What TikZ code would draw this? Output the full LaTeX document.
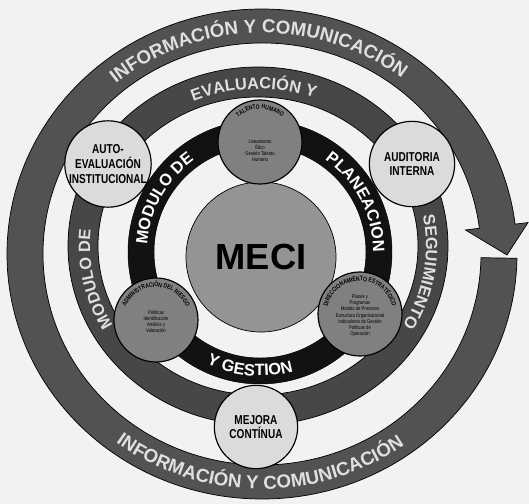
\documentclass[tikz,border=0pt]{standalone}
\usepackage{fontspec}
\setmainfont{Liberation Sans}
\setsansfont{Liberation Sans}
\newfontfamily\condfont[FakeStretch=0.78]{Liberation Sans}
\usetikzlibrary{decorations.text}

\definecolor{bggray}{gray}{0.95}
\definecolor{ringgray}{gray}{0.32}
\definecolor{bandgray}{gray}{0.28}
\definecolor{blackband}{gray}{0.07}
\definecolor{mecigray}{gray}{0.58}
\definecolor{compgray}{gray}{0.50}
\definecolor{discgray}{gray}{0.86}
\definecolor{lettergray}{gray}{0.88}

\newcommand{\ringfont}{\bfseries\fontsize{16}{16}\selectfont}
\newcommand{\bandfont}{\bfseries\fontsize{14}{14}\selectfont}
\newcommand{\discfont}{\condfont\bfseries\fontsize{11}{12.5}\selectfont}
\newcommand{\arcfont}{\condfont\bfseries\fontsize{5.5}{5.5}\selectfont}
\newcommand{\minifont}{\condfont\fontsize{4.6}{5.2}\selectfont}

\begin{document}
\begin{tikzpicture}[x=0.03cm,y=0.03cm,
  disc/.style={circle,draw=black,line width=1pt,inner sep=0pt,align=center},
  lightdisc/.style={disc,fill=discgray,font=\discfont,minimum size=2.56cm},
  compdisc/.style={disc,fill=compgray,minimum size=2.52cm},
  mecidisc/.style={disc,line width=0.6pt,fill=mecigray,minimum size=4.5cm,
    font=\bfseries\fontsize{31}{31}\selectfont},
  innertext/.style={align=center,inner sep=0pt,font=\minifont},
  ringtext/.style={decorate,decoration={text along path,text align=center,
    text color=lettergray,text={|\ringfont|#1}}},
  bandtext/.style={decorate,decoration={text along path,text align=center,
    text color=lettergray,text={|\bandfont|#1}}},
  blacktext/.style={decorate,decoration={text along path,text align=center,
    text color=white,text={|\bandfont|#1}}},
  arctext/.style={decorate,decoration={text along path,text align=center,
    text color=black,text={|\arcfont|#1}}}
]

\useasboundingbox (-262,-250) rectangle (267,254);
\fill[bggray] (-262,-250) rectangle (267,254);

\coordinate (O) at (0,0);
\coordinate (S) at (-4,8);
\coordinate (B) at (-2,2);

\filldraw[fill=ringgray,draw=black,line width=0.6pt]
  (7:219 and 211) arc[start angle=7,end angle=359,x radius=219,y radius=211]
  -- (359:255 and 245) arc[start angle=359,end angle=7,x radius=255,y radius=245]
  -- (7:268 and 258) -- (245,-1) -- (7:205 and 197) -- cycle;

\filldraw[fill=bandgray,draw=black,line width=0.6pt,even odd rule]
  (S) ellipse[x radius=190,y radius=179] (S) ellipse[x radius=160,y radius=149];

\filldraw[fill=blackband,draw=black,even odd rule]
  (B) circle[radius=132] (B) circle[radius=106];

\path[ringtext={INFORMACIÓN Y COMUNICACIÓN}]
  (160:230 and 221) arc[start angle=160,end angle=22,x radius=230,y radius=221];
\path[ringtext={INFORMACIÓN Y COMUNICACIÓN}]
  (200:245 and 235) arc[start angle=200,end angle=339,x radius=245,y radius=235];

\path[bandtext={EVALUACIÓN Y},shift={(S)}]
  (135:168 and 157) arc[start angle=135,end angle=48,x radius=168,y radius=157];
\path[bandtext={SEGUIMIENTO},shift={(S)}]
  (25:168 and 157) arc[start angle=25,end angle=-44,x radius=168,y radius=157];
\path[bandtext={MODULO DE},shift={(S)}]
  (228:168 and 157) arc[start angle=228,end angle=156,x radius=168,y radius=157];

\path[blacktext={MODULO DE},shift={(B)}]
  (188:113) arc[start angle=188,end angle=114,radius=113];
\path[blacktext={PLANEACION},shift={(B)}]
  (66:113) arc[start angle=66,end angle=-11,radius=113];
\path[blacktext={Y GESTION},shift={(B)}]
  (232:124) arc[start angle=232,end angle=298,radius=124];

\node[mecidisc] (meci) at (-1,-3) {MECI};

\node[compdisc] (talento) at (-2,112) {};
\node[compdisc] (riesgo) at (-106,-66) {};
\node[compdisc] (direccion) at (98,-60) {};

\path[arctext={TALENTO HUMANO},shift={(talento.center)}]
  (165:33) arc[start angle=165,end angle=15,radius=33];
\path[arctext={ADMINISTRACIÓN DEL RIESGO},shift={(riesgo.center)}]
  (235:33) arc[start angle=235,end angle=-55,radius=33];
\path[arctext={DIRECCIONAMIENTO ESTRATÉGICO},shift={(direccion.center)}]
  (240:33) arc[start angle=240,end angle=-60,radius=33];

\node[innertext] (talento-txt) at ([yshift=-0.25cm]talento.center)
  {Lineamiento\\Ético\\Gestión Talento\\Humano};
\node[innertext] (riesgo-txt) at ([yshift=-0.05cm]riesgo.center)
  {Políticas\\Identificación\\Análisis y\\Valoración};
\node[innertext] (direccion-txt) at ([yshift=-0.05cm]direccion.center)
  {Planes y\\Programas\\Modelo de Procesos\\Estructura Organizacional\\Indicadores de Gestión\\Políticas de\\Operación};

\node[lightdisc] (autoeval) at (-154,90) {AUTO-\\EVALUACIÓN\\INSTITUCIONAL};
\node[lightdisc] (auditoria) at (150,90) {AUDITORIA\\INTERNA};
\node[lightdisc,minimum size=2.5cm] (mejora) at (-6,-173) {MEJORA\\CONTÍNUA};

\end{tikzpicture}
\end{document}
